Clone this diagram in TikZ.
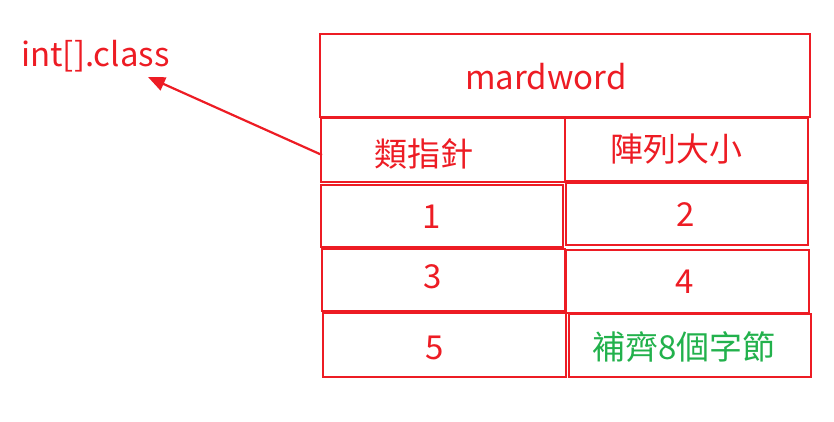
\documentclass[tikz,border=0pt]{standalone}
\usepackage{fontspec}
\setmainfont{Noto Sans CJK TC}
\usetikzlibrary{arrows.meta,fit}
\definecolor{pred}{HTML}{ED1C24}
\definecolor{pgreen}{HTML}{22B14C}
\tikzset{
  box/.style={draw=pred, line width=2.4pt, inner sep=0pt, outer sep=0pt, rectangle},
  txt/.style={text=pred, font=\fontsize{33}{38}\selectfont, inner sep=0pt},
  gtxt/.style={text=pgreen, font=\fontsize{33}{38}\selectfont, inner sep=0pt},
  arr/.style={draw=pred, line width=2.2pt, -{Triangle[length=17pt,width=14pt]}}
}
\begin{document}
\begin{tikzpicture}[x=1pt,y=-1pt]
\useasboundingbox (0,0) rectangle (834,421);
% boxes
\node[box, fit={(320,34) (810,117)}] (top) {};
\node[box, fit={(321,118) (565,182)}] (b1L) {};
\node[box, fit={(565,118) (808,181)}] (b1R) {};
\node[box, fit={(321,185) (563,247)}] (b2L) {};
\node[box, fit={(566,183) (808,245)}] (b2R) {};
\node[box, fit={(322,249) (565,311)}] (b3L) {};
\node[box, fit={(566,250) (809,313)}] (b3R) {};
\node[box, fit={(323,313) (566,377)}] (b4L) {};
\node[box, fit={(569,314) (811,377)}] (b4R) {};
% texts
\node[txt] (tmard) at (546,77) {mardword};
\node[txt] (tlei) at (424,154) {類指針};
\node[txt] (tsize) at (676,149) {陣列大小};
\node[txt] (t1) at (432,217) {1};
\node[txt] (t2) at (686,215) {2};
\node[txt] (t3) at (433,277) {3};
\node[txt] (t4) at (685,282) {4};
\node[txt] (t5) at (435,348) {5};
\node[gtxt] (tpad) at (684,347) {補齊8個字節};
\node[txt, anchor=base west] (tcls) at (21,66) {int[].class};
% arrow
\coordinate (astart) at (322,155);
\coordinate (aend) at (148,77);
\draw[arr] (astart) -- (aend);
\end{tikzpicture}
\end{document}
